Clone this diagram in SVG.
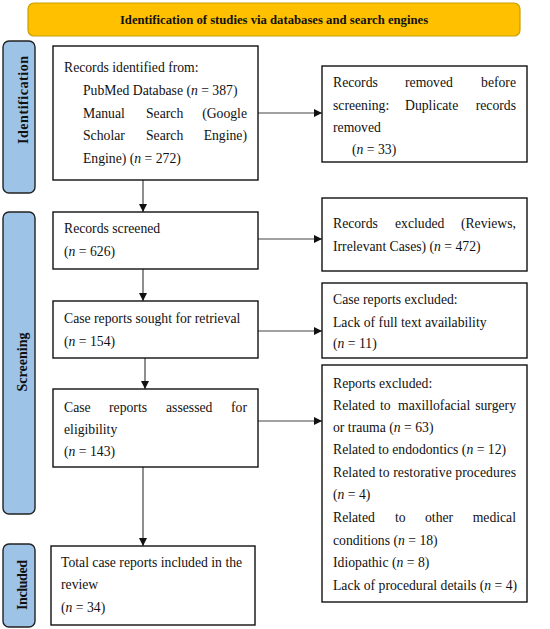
<svg xmlns="http://www.w3.org/2000/svg" width="550" height="629" viewBox="0 0 550 629">
<style>
text{font-family:"Liberation Serif","Times New Roman",serif;font-size:13.7px;fill:#111}
.b{font-weight:bold}
.t{font-size:12.7px}
.s{font-size:14px}
.box{fill:#fff;stroke:#111;stroke-width:1.4}
.side{fill:#9DC3E6;stroke:#222;stroke-width:1.4}
.i{font-style:italic}
.c{stroke:#444;stroke-width:1.2;fill:none}
.e{text-anchor:end}
</style>
<defs>
<marker id="ah" viewBox="0 0 10 10" refX="10" refY="5" markerWidth="8" markerHeight="8" markerUnits="userSpaceOnUse" orient="auto">
<path d="M0,0 L10,5 L0,10 z" fill="#111"/>
</marker>
</defs>
<rect width="550" height="629" fill="#fff"/>
<g id="title">
<rect x="28" y="3" width="492" height="33" rx="6" fill="#FFC000" stroke="#C8A000" stroke-width="1.2"/>
<text class="b t" x="274" y="24" text-anchor="middle">Identification of studies via databases and search engines</text>
</g>
<g id="side-identification">
<rect class="side" x="3" y="41" width="32" height="152" rx="6"/>
<text class="b s" transform="translate(28,100) rotate(-90)" text-anchor="middle" textLength="88" lengthAdjust="spacing">Identification</text>
</g>
<g id="side-screening">
<rect class="side" x="3" y="212" width="32" height="302" rx="6"/>
<text class="b s" transform="translate(27,362) rotate(-90)" text-anchor="middle">Screening</text>
</g>
<g id="side-included">
<rect class="side" x="3" y="544" width="32" height="83" rx="6"/>
<text class="b s" transform="translate(27,585) rotate(-90)" text-anchor="middle" textLength="50" lengthAdjust="spacing">Included</text>
</g>
<g id="connectors">
<line class="c" x1="143" y1="180" x2="143" y2="212" marker-end="url(#ah)"/>
<line class="c" x1="143" y1="269" x2="143" y2="301" marker-end="url(#ah)"/>
<line class="c" x1="145" y1="358" x2="145" y2="389" marker-end="url(#ah)"/>
<line class="c" x1="143" y1="467" x2="143" y2="546" marker-end="url(#ah)"/>
<line class="c" x1="258" y1="113" x2="322" y2="113" marker-end="url(#ah)"/>
<line class="c" x1="258" y1="239" x2="322" y2="239" marker-end="url(#ah)"/>
<line class="c" x1="258" y1="331" x2="322" y2="331" marker-end="url(#ah)"/>
<line class="c" x1="258" y1="421" x2="322" y2="421" marker-end="url(#ah)"/>
</g>
<g id="records-identified">
<rect class="box" x="53" y="46" width="205" height="134"/>
<text x="64" y="72">Records identified from:</text>
<text x="83" y="95">PubMed Database (<tspan class="i">n</tspan> = 387)</text>
<text x="83" y="118">Manual</text><text x="146" y="118">Search</text><text class="e" x="247" y="118">(Google</text>
<text x="83" y="140">Scholar</text><text x="146" y="140">Search</text><text class="e" x="247" y="140">Engine)</text>
<text x="83" y="163">Engine) (<tspan class="i">n</tspan> = 272)</text>
</g>
<g id="records-removed">
<rect class="box" x="322" y="66" width="205" height="96"/>
<text x="333" y="87">Records</text><text x="405" y="87">removed</text><text class="e" x="516" y="87">before</text>
<text x="333" y="110">screening:</text><text x="405" y="110">Duplicate</text><text class="e" x="516" y="110">records</text>
<text x="333" y="132">removed</text>
<text x="352" y="154">(<tspan class="i">n</tspan> = 33)</text>
</g>
<g id="records-screened">
<rect class="box" x="53" y="212" width="205" height="57"/>
<text x="64" y="233">Records screened</text>
<text x="64" y="256">(<tspan class="i">n</tspan> = 626)</text>
</g>
<g id="records-excluded">
<rect class="box" x="322" y="198" width="205" height="73"/>
<text x="333" y="228">Records</text><text x="395" y="228">excluded</text><text class="e" x="516" y="228">(Reviews,</text>
<text x="333" y="251">Irrelevant Cases) (<tspan class="i">n</tspan> = 472)</text>
</g>
<g id="sought-retrieval">
<rect class="box" x="53" y="301" width="205" height="57"/>
<text x="64" y="323">Case reports sought for retrieval</text>
<text x="64" y="346">(<tspan class="i">n</tspan> = 154)</text>
</g>
<g id="case-excluded">
<rect class="box" x="322" y="283" width="205" height="75"/>
<text x="333" y="304">Case reports excluded:</text>
<text x="333" y="327">Lack of full text availability</text>
<text x="333" y="348">(<tspan class="i">n</tspan> = 11)</text>
</g>
<g id="assessed-eligibility">
<rect class="box" x="53" y="389" width="205" height="78"/>
<text x="64" y="412">Case</text><text x="109" y="412">reports</text><text x="166" y="412">assessed</text><text class="e" x="247" y="412">for</text>
<text x="64" y="434">eligibility</text>
<text x="64" y="456">(<tspan class="i">n</tspan> = 143)</text>
</g>
<g id="reports-excluded">
<rect class="box" x="322" y="365" width="205" height="237"/>
<text x="333" y="388">Reports excluded:</text>
<text x="333" y="410">Related</text><text x="380" y="410">to</text><text x="398" y="410">maxillofacial</text><text class="e" x="516" y="410">surgery</text>
<text x="333" y="432">or trauma (<tspan class="i">n</tspan> = 63)</text>
<text x="333" y="454">Related to endodontics (<tspan class="i">n</tspan> = 12)</text>
<text x="333" y="477" textLength="183" lengthAdjust="spacing">Related to restorative procedures</text>
<text x="333" y="499">(<tspan class="i">n</tspan> = 4)</text>
<text x="333" y="522">Related</text><text x="395" y="522">to</text><text x="425" y="522">other</text><text class="e" x="516" y="522">medical</text>
<text x="333" y="545">conditions (<tspan class="i">n</tspan> = 18)</text>
<text x="333" y="567">Idiopathic (<tspan class="i">n</tspan> = 8)</text>
<text x="333" y="590">Lack of procedural details (<tspan class="i">n</tspan> = 4)</text>
</g>
<g id="included">
<rect class="box" x="51" y="546" width="204" height="79"/>
<text x="61" y="567">Total case reports included in the</text>
<text x="61" y="589">review</text>
<text x="61" y="612">(<tspan class="i">n</tspan> = 34)</text>
</g>
</svg>
